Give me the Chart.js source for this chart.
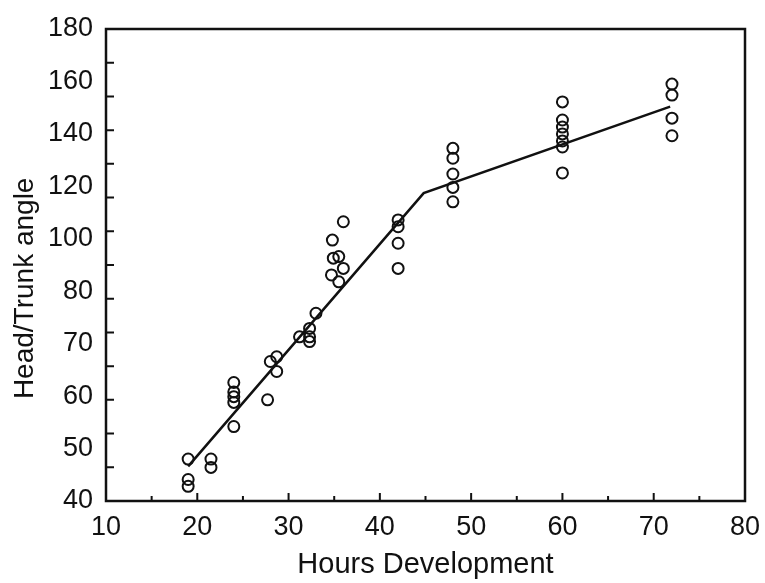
<!DOCTYPE html>
<html>
<head>
<meta charset="utf-8">
<script src="https://cdn.jsdelivr.net/npm/chart.js@4/dist/chart.umd.min.js"></script>
<style>
body{margin:0;background:#fff;}
canvas{display:block;}
</style>
</head>
<body>
<canvas id="c" width="765" height="583"></canvas>
<script>
// tick labels of the y axis (evenly spaced, uneven values)
const yLabels=[40,50,60,70,80,100,120,140,160,180];
const xTicks=[10,20,30,40,50,60,70,80];

// observations
const ptHours=[19,19,19, 21.5,21.5, 24,24,24,24,24, 28,27.7,28.7,28.7, 31.2, 32.3,32.3,32.3, 33,
  34.7,34.8,34.9,35.5,35.5,36,36, 42,42,42,42, 48,48,48,48,48, 60,60,60,60,60,60,60, 72,72,72,72];
const ptAngles=[48.0,44.1,42.8, 48.0,46.4, 62.6,60.8,59.9,58.8,54.2, 66.6,59.3,67.5,64.7, 71.3, 72.9,71.3,70.4, 75.8,
  86.2,99.5,92.6,93.2,83.6,106.5,88.7, 107.2,104.6,98.3,88.7, 134.5,130.7,124.7,119.6,114.1,
  152.2,145.3,142.6,140,137.3,135,125.1, 159,154.8,146,139.3];

// fitted broken line
const fitHours=[19,44.8,71.8];
const fitAngles=[46.6,117.4,150.4];

// y scale: labels equally spaced, linear between neighbours
class StepScale extends Chart.LinearScale{
  static id='step';
  static defaults={};
  buildTicks(){return yLabels.map(v=>({value:v}));}
  getPixelForValue(v){
    let i=0;
    while(i<yLabels.length-2 && v>yLabels[i+1]) i++;
    const idx=i+(v-yLabels[i])/(yLabels[i+1]-yLabels[i]);
    return this.getPixelForDecimal(idx/(yLabels.length-1));
  }
  getValueForPixel(p){
    const d=this.getDecimalForPixel(p)*(yLabels.length-1);
    const i=Math.max(0,Math.min(Math.floor(d),yLabels.length-2));
    return yLabels[i]+(d-i)*(yLabels[i+1]-yLabels[i]);
  }
}
Chart.register(StepScale);

const ink='#111';
const frame={
  id:'frame',
  beforeDatasetsDraw(c){
    const {ctx,chartArea:a,scales:{x,y}}=c;
    ctx.save();
    ctx.strokeStyle=ink;
    ctx.lineWidth=2.5;
    ctx.strokeRect(a.left,a.top,a.right-a.left,a.bottom-a.top);
    ctx.lineWidth=2;
    ctx.beginPath();
    for(let v=15;v<80;v+=5){
      const px=x.getPixelForValue(v);
      ctx.moveTo(px,a.bottom);ctx.lineTo(px,a.bottom-(v%10===0?8:5));
    }
    for(let k=1;k<14;k++){
      const py=y.getPixelForDecimal(k/14);
      ctx.moveTo(a.left,py);ctx.lineTo(a.left+8,py);
    }
    ctx.stroke();
    ctx.restore();
  }
};

const font='"Liberation Sans", Arial, sans-serif';
new Chart(document.getElementById('c'),{
  data:{
    datasets:[
      {type:'line',data:fitHours.map((h,i)=>({x:h,y:fitAngles[i]})),borderColor:ink,borderWidth:2.5,pointRadius:0,fill:false,tension:0},
      {type:'scatter',data:ptHours.map((h,i)=>({x:h,y:ptAngles[i]})),pointStyle:'circle',pointRadius:5.5,borderWidth:2,borderColor:ink,backgroundColor:'rgba(0,0,0,0)'}
    ]
  },
  options:{
    responsive:false,animation:false,
    layout:{padding:{top:29,right:20,left:4,bottom:0}},
    plugins:{legend:{display:false},tooltip:{enabled:false}},
    scales:{
      x:{type:'linear',min:10,max:80,
        afterBuildTicks:s=>{s.ticks=xTicks.map(v=>({value:v}));},
        afterFit:s=>{s.height=82;s.paddingLeft=0;s.paddingRight=0;},
        grid:{display:false,drawTicks:false},border:{display:false},
        ticks:{color:ink,font:{family:font,size:27},padding:10,maxRotation:0,autoSkip:false},
        title:{display:true,text:'Hours Development',color:ink,font:{family:font,size:29},padding:{top:0,bottom:1}}},
      y:{type:'step',min:40,max:180,
        afterFit:s=>{s.width=102;s.paddingTop=0;s.paddingBottom=0;},
        grid:{display:false,drawTicks:false},border:{display:false},
        ticks:{color:ink,font:{family:font,size:27},padding:13,autoSkip:false,callback:v=>String(v)},
        title:{display:true,text:'Head/Trunk angle      ',color:ink,font:{family:font,size:28},padding:{top:4,bottom:4}}}
    }
  },
  plugins:[frame]
});
</script>
</body>
</html>
